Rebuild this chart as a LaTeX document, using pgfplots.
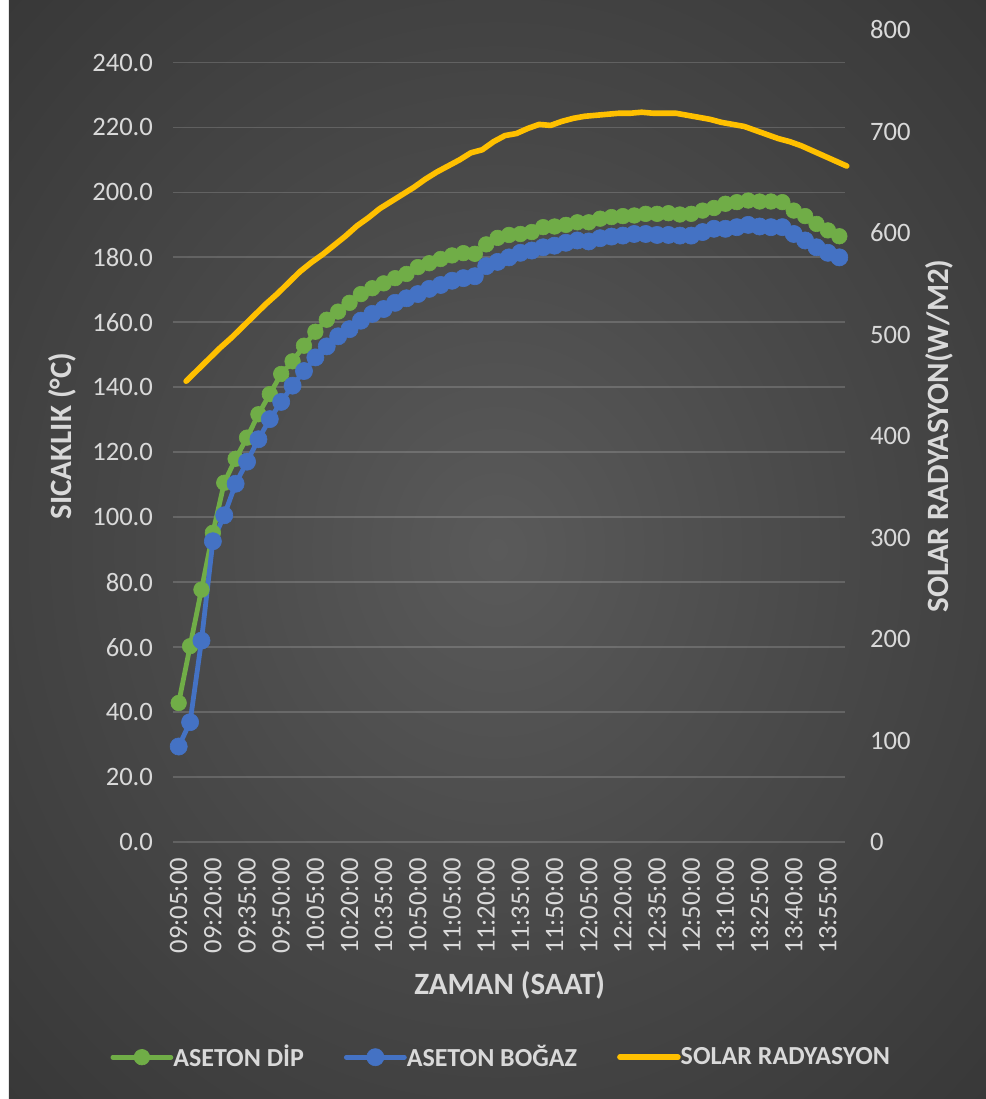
\documentclass[border=0pt]{standalone}
\usepackage{fontspec}
\setmainfont{Carlito}
\usepackage{pgfplots}
\pgfplotsset{compat=1.18}
\usepackage{pgfplotstable}

\definecolor{cgreen}{HTML}{70AD47}
\definecolor{cblue}{HTML}{4472C4}
\definecolor{cyel}{HTML}{FFC000}
\definecolor{ctxt}{HTML}{D9D9D9}
\definecolor{bgin}{RGB}{90,90,90}
\definecolor{bgmid}{RGB}{72,72,72}
\definecolor{bgout}{RGB}{50,50,50}
\definecolor{bgcorner}{RGB}{36,36,36}
\pgfdeclareradialshading{bgshade}{\pgfpoint{0bp}{0bp}}{color(0bp)=(bgin); color(18bp)=(bgmid); color(42bp)=(bgout); color(71bp)=(bgcorner)}

\pgfplotstableread{
i dip bogaz
0 42.8 29.4
1 60.3 36.9
2 77.7 62.0
3 95.2 92.6
4 110.6 100.6
5 118.0 110.3
6 124.5 117.1
7 131.7 124.0
8 137.9 130.2
9 144.1 135.5
10 148.0 140.5
11 152.8 145.0
12 157.1 149.2
13 160.8 152.6
14 163.3 155.7
15 166.0 157.9
16 168.7 160.5
17 170.5 162.6
18 172.0 164.1
19 173.6 166.0
20 174.9 167.4
21 177.0 168.7
22 178.2 170.3
23 179.5 171.5
24 180.6 172.8
25 181.3 173.6
26 181.1 174.2
27 184.0 177.3
28 186.0 178.6
29 186.9 180.0
30 187.2 181.4
31 187.8 182.1
32 189.3 183.1
33 189.5 183.6
34 190.0 184.5
35 190.8 185.2
36 190.8 184.9
37 191.9 185.9
38 192.4 186.4
39 192.7 186.7
40 192.9 187.2
41 193.4 187.2
42 193.4 186.9
43 193.6 186.9
44 193.2 186.7
45 193.4 186.7
46 194.4 187.8
47 195.2 188.8
48 196.5 188.8
49 197.0 189.3
50 197.5 190.0
51 197.2 189.5
52 197.2 189.3
53 197.0 189.3
54 194.4 187.2
55 192.7 185.2
56 190.3 183.1
57 188.3 181.4
58 186.5 180.0
}\temps

\pgfplotstableread{
x solar
0.65 454
1.65 465
2.65 476
3.65 487
4.65 497
5.65 508
6.65 519
7.65 530
8.65 540
9.65 551
10.65 562
11.65 571
12.65 579
13.65 588
14.65 597
15.65 607
16.65 615
17.65 624
18.65 631
19.65 638
20.65 645
21.65 653
22.65 660
23.65 666
24.65 672
25.65 679
26.65 682
27.65 690
28.65 696
29.65 698
30.65 703
31.65 707
32.65 706
33.65 710
34.65 713
35.65 715
36.65 716
37.65 717
38.65 718
39.65 718
40.65 719
41.65 718
42.65 718
43.65 718
44.65 716
45.65 714
46.65 712
47.65 709
48.65 707
49.65 705
50.65 701
51.65 697
52.65 693
53.65 690
54.65 686
55.65 681
56.65 676
57.65 671
58.65 666
}\solar

\begin{document}
\begin{tikzpicture}
% background
\fill[white] (-86.5pt,-128.5pt) rectangle (-82pt,421pt);
\shade[shading=bgshade] (-82pt,-128.5pt) rectangle (406.5pt,421pt);

\begin{axis}[
  scale only axis, width=336pt, height=406pt, at={(0pt,0pt)}, anchor=south west,
  xmin=-0.5, xmax=58.5, ymin=0, ymax=250,
  ytick={0,20,...,240},
  xtick={0,3,...,57},
  xticklabels={09:05:00,09:20:00,09:35:00,09:50:00,10:05:00,10:20:00,10:35:00,10:50:00,11:05:00,11:20:00,11:35:00,11:50:00,12:05:00,12:20:00,12:35:00,12:50:00,13:10:00,13:25:00,13:40:00,13:55:00},
  axis line style={draw=none},
  major tick length=0pt,
  ymajorgrids,
  major grid style={draw=white, opacity=0.16, line width=0.9pt},
  /pgf/number format/assume math mode=true,
  tick label style={font=\fontsize{13.3}{15}\selectfont, text=ctxt},
  yticklabel style={/pgf/number format/.cd, fixed, fixed zerofill, precision=1},
  yticklabel shift=6.5pt,
  xticklabel style={rotate=90, anchor=east},
  xticklabel shift=4.5pt,
  every axis y label/.style={at={(axis description cs:-0.164,0.5)}, rotate=90, anchor=center},
  every axis x label/.style={at={(axis description cs:0.501,-0.176)}, anchor=center},
  label style={font=\bfseries\fontsize{15.5}{18}\selectfont, text=ctxt},
  ylabel={SICAKLIK (°C)},
  xlabel={ZAMAN (SAAT)},
  legend columns=3,
  legend style={at={(axis description cs:0.49,-0.265)}, anchor=center, draw=none, fill=none,
    text=ctxt, font=\bfseries\fontsize{13}{15}\selectfont,
    /tikz/every even column/.append style={column sep=18pt},
    /tikz/every odd column/.append style={column sep=-2pt}},
  legend image code/.code={\draw[#1, mark repeat=2, mark phase=2] plot coordinates {(0pt,0pt) (14.5pt,0pt) (29pt,0pt)};},
]
\addplot[color=cgreen, line width=2.4pt, line join=round, line cap=round, mark=*, mark size=3.9pt, mark options={fill=cgreen, draw=cgreen, line width=0.3pt}] table[x=i, y=dip] {\temps};
\addlegendentry{ASETON DİP}
\addplot[color=cblue, line width=2.4pt, line join=round, line cap=round, mark=*, mark size=4.3pt, mark options={fill=cblue, draw=cblue, line width=0.3pt}] table[x=i, y=bogaz] {\temps};
\addlegendentry{ASETON BOĞAZ}
\addlegendimage{color=cyel, line width=2.8pt, line cap=round}
\addlegendentry{SOLAR RADYASYON}
\end{axis}

\begin{axis}[
  scale only axis, width=336pt, height=406pt, at={(0pt,0pt)}, anchor=south west,
  xmin=-0.5, xmax=58.5, ymin=0, ymax=800,
  axis x line=none, axis y line*=right,
  axis line style={draw=none},
  major tick length=0pt,
  clip=false,
  ytick={0,100,...,800},
  /pgf/number format/assume math mode=true,
  tick label style={font=\fontsize{13.3}{15}\selectfont, text=ctxt},
  yticklabel shift=9pt,
  every axis y label/.style={at={(axis description cs:1.141,0.5)}, rotate=90, anchor=center},
  label style={font=\bfseries\fontsize{15.5}{18}\selectfont, text=ctxt},
  ylabel={SOLAR RADYASYON(W/M2)},
]
\addplot[color=cyel, line width=2.8pt, line join=round, line cap=round, mark=none] table[x=x, y=solar] {\solar};
\end{axis}

\pgfresetboundingbox
\path (-86.5pt,-128.5pt) rectangle (406.5pt,421pt);
\end{tikzpicture}
\end{document}
